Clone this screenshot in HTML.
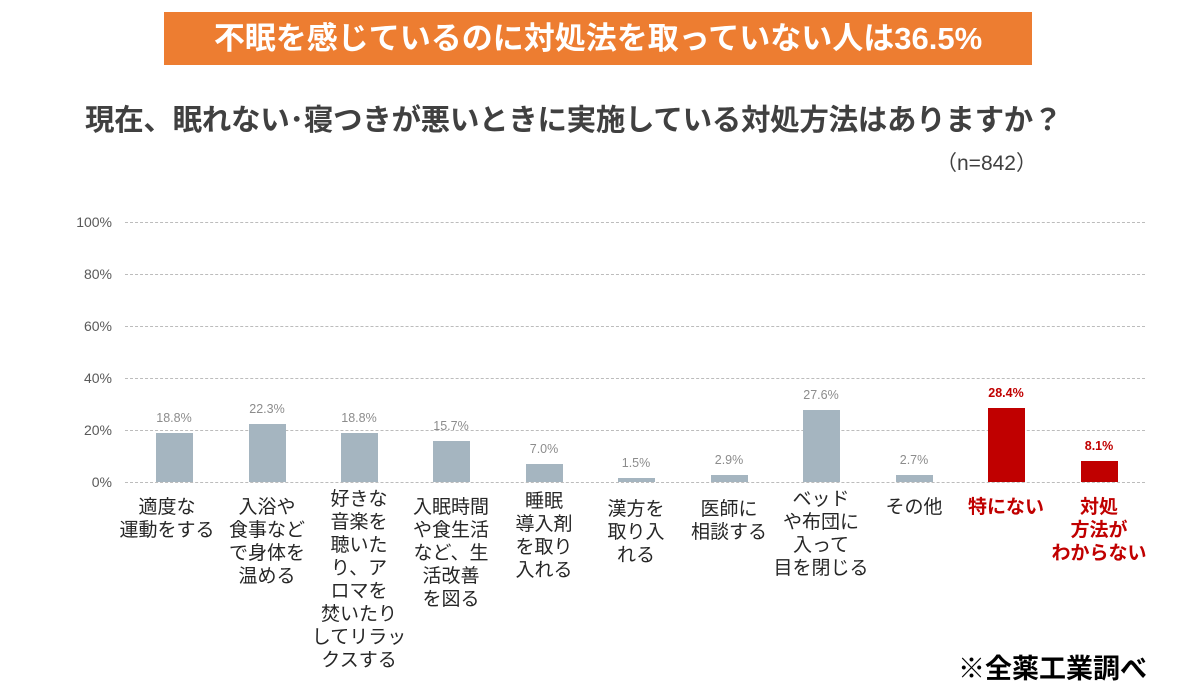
<!DOCTYPE html>
<html><head><meta charset="utf-8"><style>
body{margin:0;width:1200px;height:700px;background:#fff;position:relative;overflow:hidden;font-family:"Liberation Sans","Noto Sans CJK JP",sans-serif;}
.a{position:absolute;}
.banner{left:164px;top:12px;width:868px;height:53px;background:#ED7D31;color:#fff;font-size:31px;font-weight:bold;text-align:center;line-height:53px;white-space:nowrap;}
.title{left:85px;top:97px;font-size:29.5px;font-weight:bold;color:#404040;white-space:nowrap;letter-spacing:-0.3px;}
.n{left:936px;top:147px;font-size:21px;color:#404040;}
.grid{left:125px;width:1020px;height:0;border-top:1px dashed #bcbcbc;}
.yl{left:60px;width:52px;text-align:right;font-size:14px;color:#595959;}
.bar{width:37px;background:#A5B5C0;}
.red{background:#C00000;}
.v{width:80px;text-align:center;font-size:12.5px;color:#8c8c8c;}
.v.r{color:#C00000;font-weight:bold;}
.lab{width:110px;text-align:center;font-size:19px;line-height:23px;color:#262626;white-space:nowrap;}
.lab.r{color:#C00000;font-weight:bold;}
.src{left:958px;top:647px;font-size:27px;font-weight:bold;color:#000;white-space:nowrap;}
</style></head><body>
<div class="a banner">不眠を感じているのに対処法を取っていない人は36.5%</div>
<div class="a title">現在、眠れない･寝つきが悪いときに実施している対処方法はありますか？</div>
<div class="a n">（n=842）</div>

<div class="a grid" style="top:222px"></div>
<div class="a grid" style="top:274px"></div>
<div class="a grid" style="top:326px"></div>
<div class="a grid" style="top:378px"></div>
<div class="a grid" style="top:430px"></div>
<div class="a grid" style="top:482px"></div>
<div class="a yl" style="top:214px">100%</div>
<div class="a yl" style="top:266px">80%</div>
<div class="a yl" style="top:318px">60%</div>
<div class="a yl" style="top:370px">40%</div>
<div class="a yl" style="top:422px">20%</div>
<div class="a yl" style="top:474px">0%</div>

<div class="a bar" style="left:156px;top:433px;height:49px"></div>
<div class="a bar" style="left:249px;top:424px;height:58px"></div>
<div class="a bar" style="left:341px;top:433px;height:49px"></div>
<div class="a bar" style="left:433px;top:441px;height:41px"></div>
<div class="a bar" style="left:526px;top:464px;height:18px"></div>
<div class="a bar" style="left:618px;top:478px;height:4px"></div>
<div class="a bar" style="left:711px;top:475px;height:7px"></div>
<div class="a bar" style="left:803px;top:410px;height:72px"></div>
<div class="a bar" style="left:896px;top:475px;height:7px"></div>
<div class="a bar red" style="left:988px;top:408px;height:74px"></div>
<div class="a bar red" style="left:1081px;top:461px;height:21px"></div>

<div class="a v" style="left:134px;top:411px">18.8%</div>
<div class="a v" style="left:227px;top:402px">22.3%</div>
<div class="a v" style="left:319px;top:411px">18.8%</div>
<div class="a v" style="left:411px;top:419px">15.7%</div>
<div class="a v" style="left:504px;top:442px">7.0%</div>
<div class="a v" style="left:596px;top:456px">1.5%</div>
<div class="a v" style="left:689px;top:453px">2.9%</div>
<div class="a v" style="left:781px;top:388px">27.6%</div>
<div class="a v" style="left:874px;top:453px">2.7%</div>
<div class="a v r" style="left:966px;top:386px">28.4%</div>
<div class="a v r" style="left:1059px;top:439px">8.1%</div>

<div class="a lab" style="left:112px;top:496px">適度な<br>運動をする</div>
<div class="a lab" style="left:212px;top:496px">入浴や<br>食事など<br>で身体を<br>温める</div>
<div class="a lab" style="left:304px;top:488px">好きな<br>音楽を<br>聴いた<br>り、ア<br>ロマを<br>焚いたり<br>してリラッ<br>クスする</div>
<div class="a lab" style="left:396px;top:496px">入眠時間<br>や食生活<br>など、生<br>活改善<br>を図る</div>
<div class="a lab" style="left:489px;top:490px">睡眠<br>導入剤<br>を取り<br>入れる</div>
<div class="a lab" style="left:581px;top:498px">漢方を<br>取り入<br>れる</div>
<div class="a lab" style="left:674px;top:498px">医師に<br>相談する</div>
<div class="a lab" style="left:766px;top:488px">ベッド<br>や布団に<br>入って<br>目を閉じる</div>
<div class="a lab" style="left:859px;top:496px">その他</div>
<div class="a lab r" style="left:951px;top:496px">特にない</div>
<div class="a lab r" style="left:1044px;top:496px">対処<br>方法が<br>わからない</div>

<div class="a src">※全薬工業調べ</div>
</body></html>
